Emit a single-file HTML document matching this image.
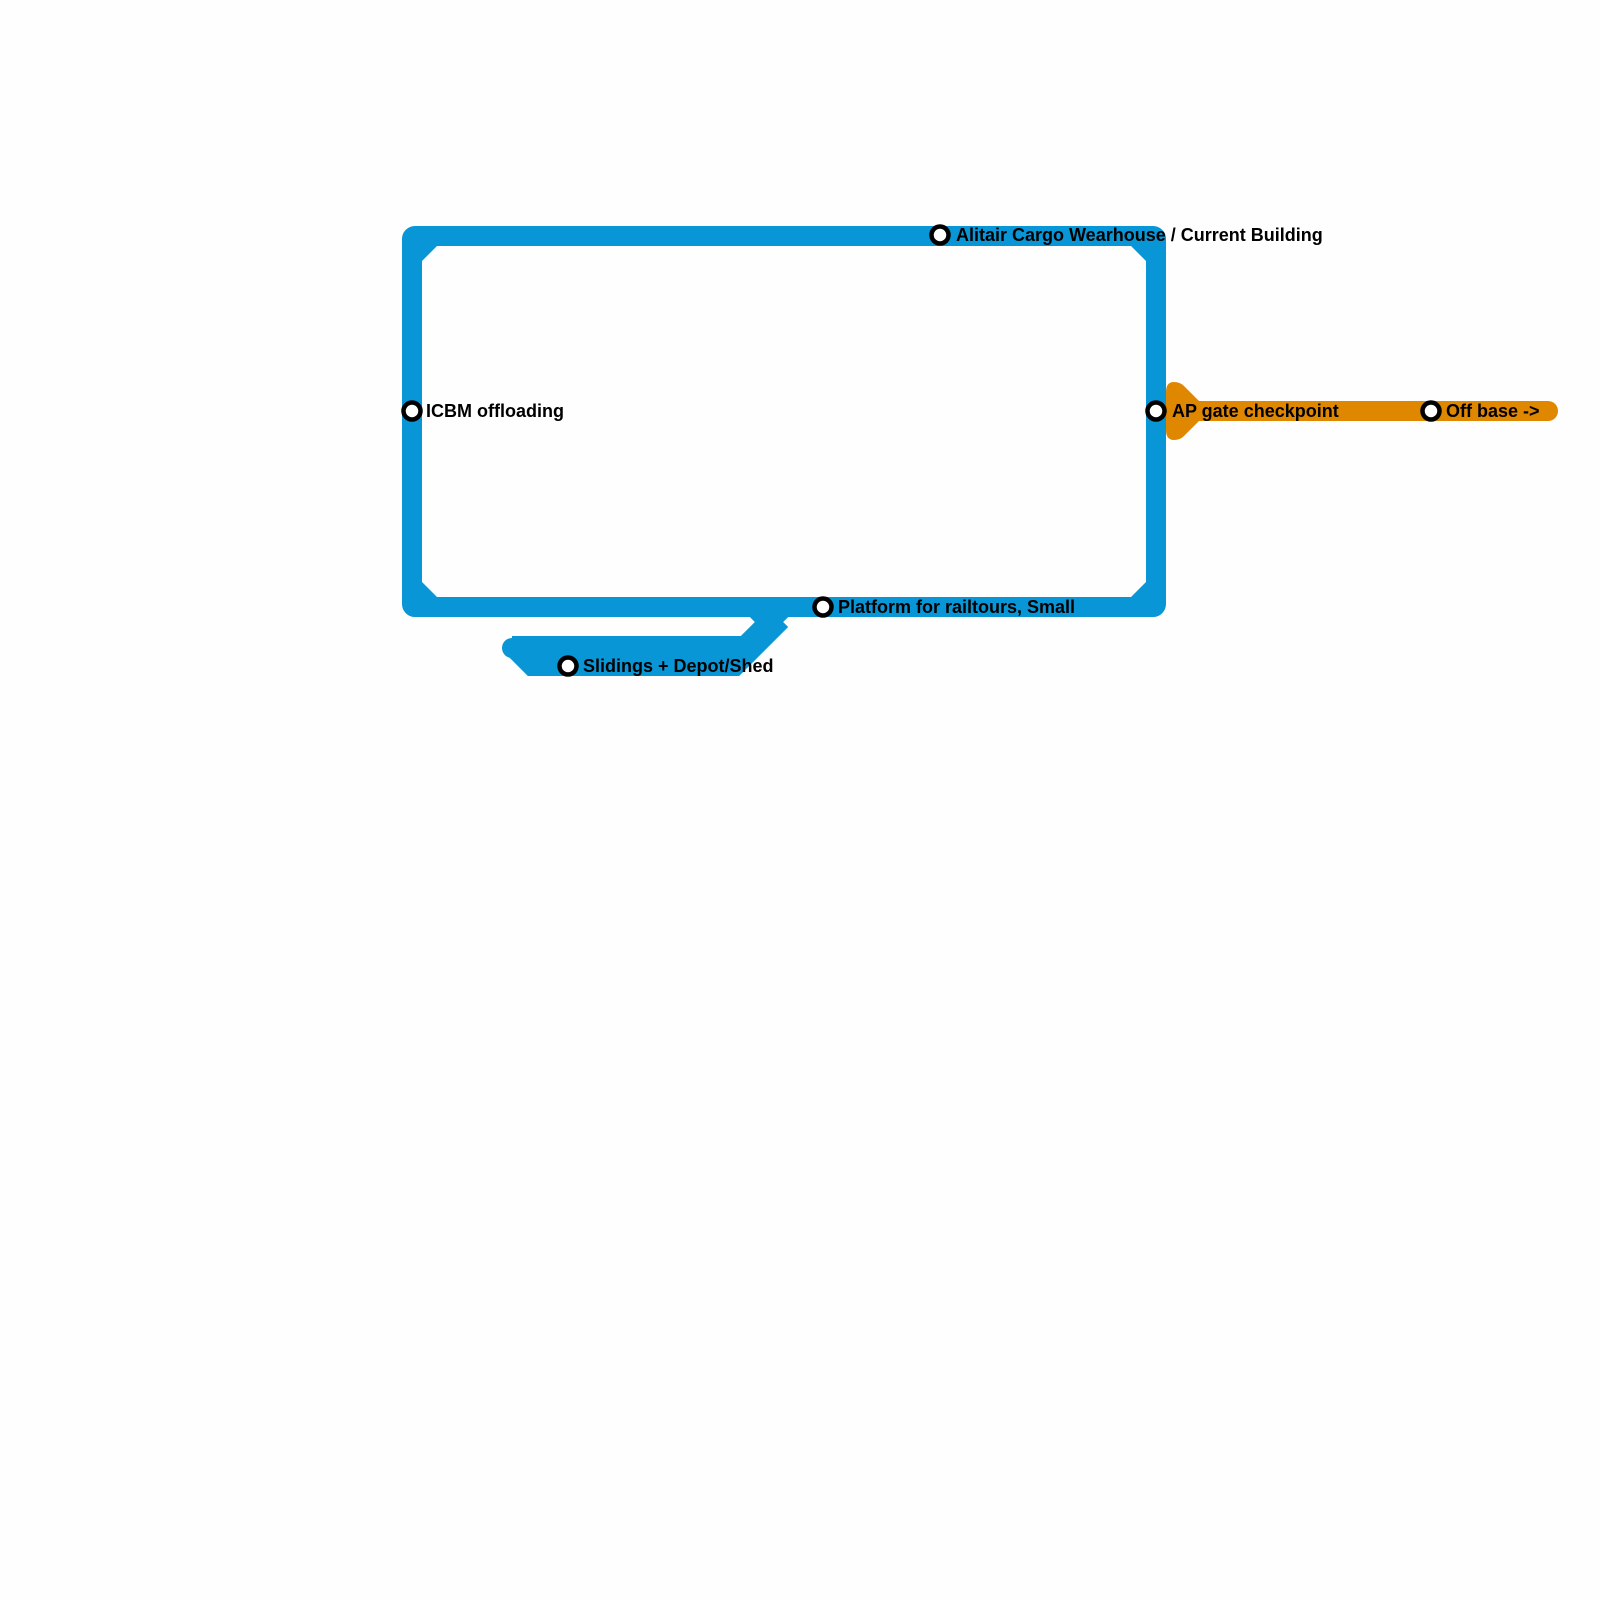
<!DOCTYPE html>
<html><head><style>body{margin:0;background:#fefefe}svg{display:block}text{font-family:"Liberation Sans",sans-serif;font-weight:bold;font-size:18px;fill:#000}</style></head>
<body>
<svg width="1600" height="1600" viewBox="0 0 1600 1600">
<rect x="0" y="0" width="1600" height="1600" fill="#fefefe"/>
<g fill="none" stroke="#0896d7" stroke-width="20" stroke-linejoin="round" stroke-linecap="round">
<rect x="412" y="236" width="744" height="371" rx="3"/>
<polyline points="512,646 745,646 784,607" stroke-linecap="butt"/>
<polyline points="512,646 532,666 735,666 774,627 754,607" stroke-linejoin="miter" stroke-linecap="butt"/>
</g>
<g fill="#0896d7">
<polygon points="422,246 437,246 422,261"/>
<polygon points="1146,246 1131,246 1146,261"/>
<polygon points="422,597 437,597 422,582"/>
<polygon points="1146,597 1131,597 1146,582"/>
<circle cx="512" cy="648" r="10"/>
</g>
<line x1="1180" y1="411" x2="1548" y2="411" stroke="#e08700" stroke-width="20" stroke-linecap="round"/>
<path d="M1166,392 Q1166,382 1174,382 Q1180,382 1184,386 L1202,404 L1202,418 L1184,436 Q1180,440 1174,440 Q1166,440 1166,430 Z" fill="#e08700"/>
<g fill="#fff" stroke="#000" stroke-width="4.5">
<circle cx="940" cy="235" r="8.5"/>
<circle cx="412" cy="411" r="8.5"/>
<circle cx="1156" cy="411" r="8.5"/>
<circle cx="1431" cy="411" r="8.5"/>
<circle cx="823" cy="607" r="8.5"/>
<circle cx="568" cy="666" r="8.5"/>
</g>
<text x="956" y="241">Alitair Cargo Wearhouse / Current Building</text>
<text x="426" y="417">ICBM offloading</text>
<text x="1172" y="417">AP gate checkpoint</text>
<text x="1446" y="417">Off base -&gt;</text>
<text x="838" y="613">Platform for railtours, Small</text>
<text x="583" y="672">Slidings + Depot/Shed</text>
</svg>
</body></html>
